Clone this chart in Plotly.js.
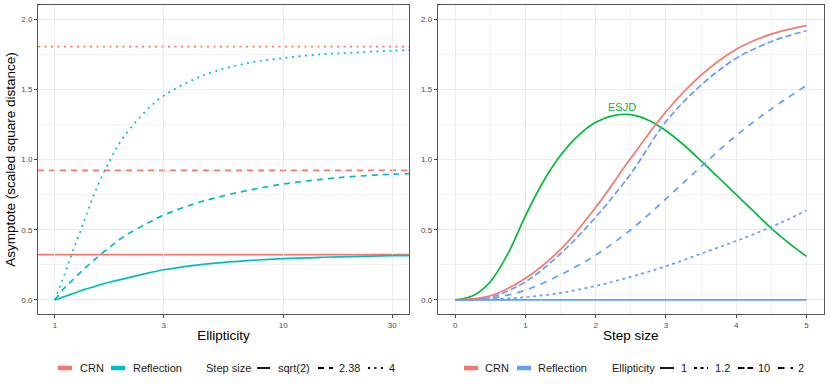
<!DOCTYPE html>
<html>
<head>
<meta charset="utf-8">
<script src="https://cdn.plot.ly/plotly-3.0.1.min.js"></script>
<style>
  html, body { margin: 0; padding: 0; background: #fff; }
  #chart { width: 830px; height: 387px; }
</style>
</head>
<body>
<div id="chart"></div>
<script>
// left panel: asymptote vs ellipticity, one curve per step size
const ellipticity = [1, 1.1, 1.2, 1.35, 1.5, 1.75, 2, 2.5, 3, 4, 5, 7, 10, 15, 20, 30, 40];
const reflSqrt2 = [0, 0.024, 0.045, 0.075, 0.097, 0.128, 0.15, 0.188, 0.215, 0.245, 0.262, 0.28, 0.294, 0.304, 0.309, 0.315, 0.317];
const refl238 = [0, 0.085, 0.145, 0.225, 0.29, 0.38, 0.45, 0.54, 0.605, 0.68, 0.725, 0.78, 0.825, 0.86, 0.878, 0.895, 0.9];
const refl4 = [0, 0.18, 0.35, 0.57, 0.77, 1.0, 1.16, 1.345, 1.455, 1.565, 1.627, 1.687, 1.722, 1.75, 1.76, 1.775, 1.78];
const crnByStep = [0.323, 0.922, 1.803];
const stepLabels = ["sqrt(2)", "2.38", "4"];

// right panel: asymptote vs step size, one curve per ellipticity
const stepSize = [0, 0.5, 1, 1.5, 2, 2.5, 3, 3.5, 4, 4.5, 5];
const crnStepCurve = [0, 0.03, 0.155, 0.36, 0.66, 1.01, 1.34, 1.6, 1.785, 1.893, 1.953];
const reflEll1 = [0, 0, 0, 0, 0, 0, 0, 0, 0, 0, 0];
const reflEll12 = [0, 0.005, 0.02, 0.05, 0.1, 0.165, 0.24, 0.33, 0.42, 0.52, 0.637];
const reflEll10 = [0, 0.02, 0.13, 0.33, 0.59, 0.9, 1.27, 1.53, 1.72, 1.84, 1.917];
const reflEll2 = [0, 0.012, 0.07, 0.18, 0.32, 0.5, 0.72, 0.95, 1.17, 1.36, 1.527];
const ellLabels = ["1", "1.2", "10", "2"];

const esjdStep = [0, 0.25, 0.5, 0.75, 1, 1.25, 1.5, 1.75, 2, 2.25, 2.5, 2.75, 3, 3.25, 3.5, 3.75, 4, 4.25, 4.5, 4.75, 5];
const esjd = [0, 0.03, 0.13, 0.33, 0.6, 0.84, 1.03, 1.17, 1.265, 1.312, 1.32, 1.28, 1.205, 1.105, 0.99, 0.87, 0.75, 0.63, 0.51, 0.405, 0.31];

const methods = ["CRN", "Reflection"];
const xTicksLeft = [1, 3, 10, 30];
const xTicksRight = [0, 1, 2, 3, 4, 5];
const yTicks = [0, 0.5, 1, 1.5, 2];

// styling
const RED = "#F8766D", TEAL = "#00BFC4", BLUE = "#619CFF", GREEN = "#00BA38";
const DASH_LEFT = ["solid", "6px,5px", "2px,4.5px"];
const DASH_RIGHT = ["solid", "3px,3.5px", "6.5px,3px", "6.5px,6px"];
const FONT = "Liberation Sans, Arial, Helvetica, sans-serif";
const LW = 1.7;

const W = 830, H = 387, M = { l: 38, r: 6, t: 5, b: 73 };
const PW = W - M.l - M.r, PH = H - M.t - M.b;
const px = (p) => (p - M.l) / PW;
const py = (p) => (H - M.b - p) / PH;

function curve(x, y, color, dash, xa, ya) {
  return {
    x: x, y: y, xaxis: xa, yaxis: ya,
    type: "scatter", mode: "lines", showlegend: false, hoverinfo: "skip",
    line: { color: color, width: LW, dash: dash, shape: "spline", smoothing: 1 },
  };
}

const reflLeft = [reflSqrt2, refl238, refl4];
const reflRight = [reflEll1, reflEll12, reflEll10, reflEll2];

const traces = [];
reflLeft.forEach((ys, i) => traces.push(curve(ellipticity, ys, TEAL, DASH_LEFT[i], "x", "y")));
traces.push(curve(esjdStep, esjd, GREEN, "solid", "x2", "y2"));
[3, 2, 1].forEach((i) => traces.push(curve(stepSize, reflRight[i], BLUE, DASH_RIGHT[i], "x2", "y2")));
traces.push(curve(stepSize, crnStepCurve, RED, "solid", "x2", "y2"));
traces.push(curve(stepSize, reflRight[0], BLUE, "solid", "x2", "y2"));

// CRN asymptotes as horizontal lines across the left panel
const shapes = crnByStep.map((v, i) => ({
  type: "line", xref: "x domain", yref: "y", x0: 0, x1: 1, y0: v, y1: v,
  layer: "below", line: { color: RED, width: LW, dash: DASH_LEFT[i] },
}));

// ESJD label above the peak
const esjdMax = Math.max(...esjd);
let sw = 0, sx = 0;
esjd.forEach((v, i) => { if (v > 0.95 * esjdMax) { sw += v; sx += v * esjdStep[i]; } });
const annotations = [{
  x: sx / sw, y: esjdMax, xref: "x2", yref: "y2", text: "ESJD", showarrow: false,
  yanchor: "bottom", font: { family: FONT, size: 11, color: GREEN },
}];

// legends drawn in paper space, ggplot style (bottom, horizontal)
const LEG_Y = 368;
function key(x0, x1, color, dash, width) {
  shapes.push({
    type: "line", xref: "paper", yref: "paper",
    x0: px(x0), x1: px(x1), y0: py(LEG_Y), y1: py(LEG_Y),
    line: { color: color, width: width, dash: dash },
  });
}
function label(x, text) {
  annotations.push({
    x: px(x), y: py(LEG_Y), xref: "paper", yref: "paper", text: text,
    showarrow: false, xanchor: "left", yanchor: "middle", borderpad: 0,
    font: { family: FONT, size: 11, color: "#1a1a1a" },
  });
}
// left legend
key(58, 72, RED, "solid", 4.5); label(79, methods[0]);
key(111, 125, TEAL, "solid", 4.5); label(132, methods[1]);
label(205, "Step size");
[[257, 270, 277], [318, 333, 338], [368, 383, 388]].forEach((p, i) => {
  key(p[0], p[1], "#000", DASH_LEFT[i], 1.8); label(p[2], stepLabels[i]);
});
// right legend
key(464, 478, RED, "solid", 4.5); label(484, methods[0]);
key(517, 531, BLUE, "solid", 4.5); label(537, methods[1]);
label(611, "Ellipticity");
[[660, 674, 680], [694, 708, 714], [738, 753, 757], [778, 793, 797]].forEach((p, i) => {
  key(p[0], p[1], "#000", DASH_RIGHT[i], 1.8); label(p[2], ellLabels[i]);
});

const axisBase = {
  showline: true, mirror: true, linecolor: "#555", linewidth: 1,
  ticks: "outside", ticklen: 3, tickwidth: 1, tickcolor: "#444",
  tickfont: { family: FONT, size: 8, color: "#4d4d4d" },
  gridcolor: "#ebebeb", gridwidth: 1, zeroline: false,
};
const yAxis = (anchor) => Object.assign({}, axisBase, {
  anchor: anchor, domain: [0, 1], range: [-0.1, 2.1],
  tickvals: yTicks, ticktext: yTicks.map((v) => v.toFixed(1)),
  minor: { dtick: 0.25, tick0: 0, showgrid: true, gridcolor: "#f3f3f3", gridwidth: 1, ticks: "" },
});

const layout = {
  width: W, height: H, margin: M,
  paper_bgcolor: "#fff", plot_bgcolor: "#fff",
  font: { family: FONT, color: "#000" },
  showlegend: false,
  xaxis: Object.assign({}, axisBase, {
    type: "log", anchor: "y", domain: [0, px(409)],
    range: [-0.074, 1.551], tickvals: xTicksLeft, ticktext: xTicksLeft.map(String),
    title: { text: "Ellipticity", standoff: 1, font: { family: FONT, size: 13.5 } },
  }),
  yaxis: Object.assign(yAxis("x"), {
    title: { text: "Asymptote (scaled square distance)", standoff: 2, font: { family: FONT, size: 13.5 } },
  }),
  xaxis2: Object.assign({}, axisBase, {
    anchor: "y2", domain: [px(437.7), 1], range: [-0.25, 5.25],
    tickvals: xTicksRight, ticktext: xTicksRight.map(String),
    minor: { dtick: 0.5, tick0: 0, showgrid: true, gridcolor: "#f3f3f3", gridwidth: 1, ticks: "" },
    title: { text: "Step size", standoff: 1, font: { family: FONT, size: 13.5 } },
  }),
  yaxis2: yAxis("x2"),
  shapes: shapes,
  annotations: annotations,
};

Plotly.newPlot("chart", traces, layout, { staticPlot: true, displayModeBar: false });
</script>
</body>
</html>
